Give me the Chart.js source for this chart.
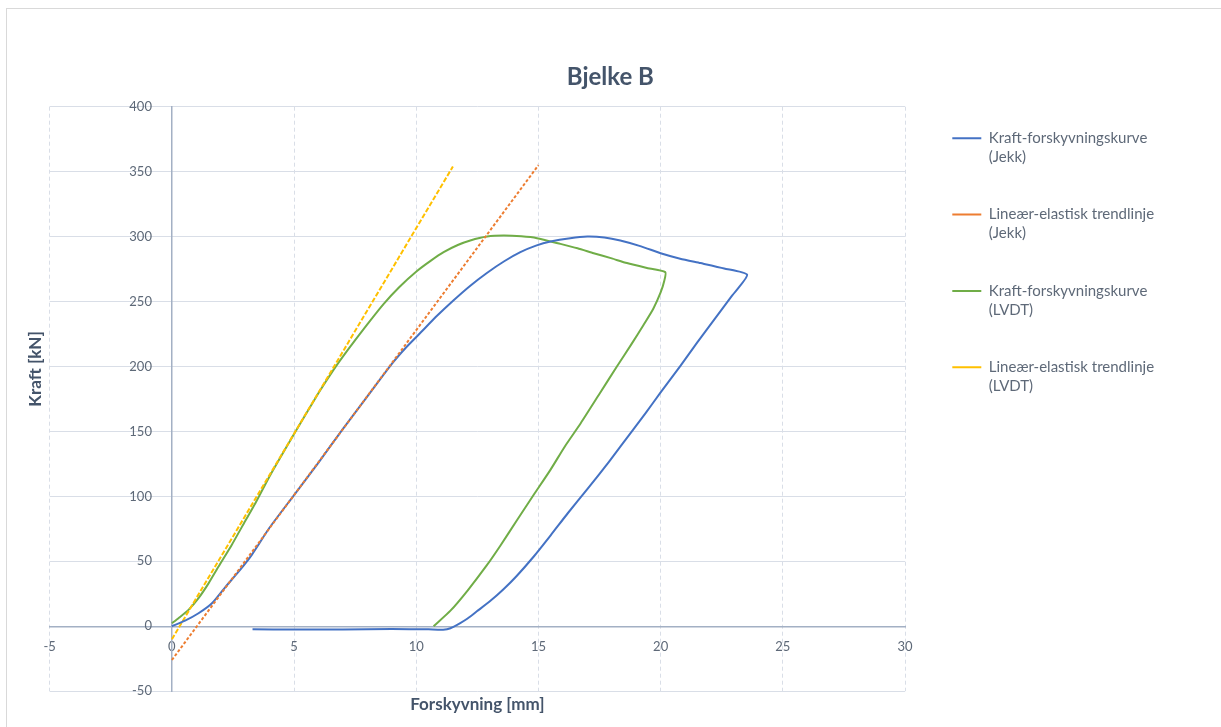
<!DOCTYPE html>
<html>
<head>
<meta charset="utf-8">
<title>Bjelke B</title>
<script src="https://cdn.jsdelivr.net/npm/chart.js@4.4.1/dist/chart.umd.min.js"></script>
<style>
    html, body { margin: 0; padding: 0; background: #fff; }
    .wrap { position: relative; width: 1221px; height: 727px; }
    .frame { position: absolute; left: 6px; top: 8px; right: 0; bottom: 0; border-left: 1px solid #d9d9d9; border-top: 1px solid #d9d9d9; pointer-events: none; }
    canvas { display: block; }
</style>
</head>
<body>
<div class="wrap">
    <canvas id="chart" width="1221" height="727"></canvas>
    <div class="frame"></div>
</div>
<script>
"use strict";

// displacement [mm] / force [kN]
const jekkX = [0, 0.54, 1.09, 1.64, 2.18, 2.73, 3.27, 4, 5, 6, 7, 8, 9, 9.6, 10.2, 10.85, 11.53, 12.2, 12.89, 13.6, 14.26, 14.9, 15.49, 16.3, 17, 17.7, 18.35, 19.2, 20, 20.8, 21.63, 22.6, 23.54,
    22.9, 22.17, 21.5, 20.81, 20, 19.4, 18.8, 17.9, 17, 16.2, 15.5, 14.8, 14.1, 13.57, 13.0, 12.48, 12.1, 11.8, 11.4, 11.1, 10.5, 9, 7, 5, 3.3];
const jekkY = [0, 4.3, 10, 17.7, 30, 42, 55, 76, 101, 126, 152, 177, 202, 215, 226.5, 239, 251, 262, 272, 281, 288, 293, 296.2, 298.8, 300, 299.3, 297, 292.5, 287.2, 283, 279.6, 275.5, 270.6,
    254, 235.5, 218.5, 200.5, 180, 164.5, 149.5, 127, 105.5, 87, 70, 53.5, 38.5, 28.5, 19, 11.5, 6, 2.5, -1.5, -2.6, -2.4, -2.2, -2.5, -2.5, -2.4];

const lvdtX = [0, 0.27, 0.68, 1.09, 1.5, 1.91, 2.46, 3, 3.41, 4, 5, 6, 6.6, 7.23, 7.98, 8.66, 9.3, 10.03, 10.6, 11.12, 11.7, 12.21, 12.9, 13.57, 14.3, 14.94, 15.9, 16.6, 17.26, 18, 18.62, 19.4, 20.19,
    20.15, 20.0, 19.7, 19.3, 18.8, 18.21, 17.5, 16.73, 16.1, 15.49, 14.8, 14.1, 13.44, 12.89, 12.1, 11.4, 10.71];
const lvdtY = [2.3, 6.2, 12.6, 21.6, 33, 46, 63, 81, 94.5, 115.5, 148, 179.5, 197, 213.5, 232, 248, 261, 273.5, 281.5, 288, 293.5, 297, 300, 300.8, 300.2, 298.8, 294.4, 291, 287.2, 283.2, 279.6, 276, 272.6,
    266, 257, 244.5, 232, 217, 200, 179, 156.3, 139, 120.4, 101, 81, 62, 47, 27.5, 12, 0];

const trendJekkX = [0, 15];
const trendJekkY = [-26, 355];
const trendLvdtX = [0, 11.5];
const trendLvdtY = [-10, 354];

const xTicks = [-5, 0, 5, 10, 15, 20, 25, 30];
const yTicks = [-50, 0, 50, 100, 150, 200, 250, 300, 350, 400];

const seriesNames = [
    ["Kraft-forskyvningskurve", "(Jekk)"],
    ["Lineær-elastisk trendlinje", "(Jekk)"],
    ["Kraft-forskyvningskurve", "(LVDT)"],
    ["Lineær-elastisk trendlinje", "(LVDT)"]
];
const seriesColors = ["#4472c4", "#ed7d31", "#70ad47", "#ffc000"];

const chartTitle = "Bjelke B";
const xTitle = "Forskyvning [mm]";
const yTitle = "Kraft [kN]";

const textColor = "#5e6978";
const titleColor = "#44546a";
const gridColor = "#d9dee7";
const axisColor = "#a3b0c4";

function points(xs, ys) {
    return xs.map((x, i) => ({ x: x, y: ys[i] }));
}

Chart.defaults.font.family = "Lato";

// legend sits right of the plot; work out its width so the plot ends where it should
const legendFontSize = 15;
const legendPad = 38.3;
const mctx = document.createElement("canvas").getContext("2d");
mctx.font = `${legendFontSize}px Lato`;
const longest = Math.max(...seriesNames.flat().map(t => mctx.measureText(t).width));
const legendWidth = legendPad + 29 + legendFontSize / 2 + longest + 10;
const plotRight = 905;
const padRight = 22;
const restRight = Math.max(0, 1221 - padRight - plotRight - 9 - legendWidth);

// y axis title, drawn by hand so it can sit a bit above the middle like the original
const yAxisTitle = {
    id: "yAxisTitle",
    afterDraw(chart) {
        const { ctx, chartArea } = chart;
        ctx.save();
        ctx.translate(chartArea.left - 14.5, (chartArea.top + chartArea.bottom) / 2 - 30);
        ctx.rotate(-Math.PI / 2);
        ctx.font = "bold 17px Lato";
        ctx.fillStyle = titleColor;
        ctx.textAlign = "center";
        ctx.textBaseline = "middle";
        ctx.fillText(yTitle, 0, 0);
        ctx.restore();
    }
};

function spacer(axis, position, size, weight) {
    return {
        type: "linear",
        axis: axis,
        position: position,
        weight: weight,
        ticks: { display: false },
        grid: { display: false },
        border: { display: false },
        afterFit: s => { if (axis === "x") { s.height = size; } else { s.width = size; } }
    };
}

const xt = spacer("x", "bottom", 24, 0);
xt.title = { display: true, text: xTitle, color: titleColor, font: { size: 17, weight: "bold" }, padding: { top: 0, bottom: 0 } };

new Chart(document.getElementById("chart"), {
    type: "scatter",
    data: {
        datasets: [
            { label: seriesNames[0].join(" "), data: points(jekkX, jekkY), borderColor: seriesColors[0], backgroundColor: seriesColors[0], borderWidth: 2, tension: 0.2, order: 2 },
            { label: seriesNames[1].join(" "), data: points(trendJekkX, trendJekkY), borderColor: seriesColors[1], backgroundColor: seriesColors[1], borderWidth: 2, borderDash: [3, 2], order: 1 },
            { label: seriesNames[2].join(" "), data: points(lvdtX, lvdtY), borderColor: seriesColors[2], backgroundColor: seriesColors[2], borderWidth: 2, tension: 0.2, order: 4 },
            { label: seriesNames[3].join(" "), data: points(trendLvdtX, trendLvdtY), borderColor: seriesColors[3], backgroundColor: seriesColors[3], borderWidth: 2, borderDash: [5, 2], order: 3 }
        ].map(ds => Object.assign(ds, { showLine: true, pointRadius: 0, pointHoverRadius: 0, xAxisID: "x", yAxisID: "y" }))
    },
    options: {
        responsive: false,
        animation: false,
        layout: { padding: { top: 10, left: 21.7, right: padRight, bottom: 11.8 } },
        plugins: {
            title: {
                display: true,
                text: chartTitle,
                color: titleColor,
                font: { size: 24, weight: "bold" },
                padding: { top: 52.6, bottom: 15.3 }
            },
            legend: {
                position: "right",
                align: "start",
                maxWidth: 400,
                title: { display: true, text: "", font: { size: 10 }, padding: { top: 70.5, bottom: 0 } },
                labels: {
                    boxWidth: 29,
                    boxHeight: 2,
                    padding: legendPad,
                    color: textColor,
                    font: { size: legendFontSize, lineHeight: 19 / 15 },
                    generateLabels: chart => chart.data.datasets.map((ds, i) => ({
                        text: seriesNames[i],
                        fillStyle: ds.borderColor,
                        strokeStyle: ds.borderColor,
                        lineWidth: 0,
                        fontColor: textColor,
                        hidden: !chart.isDatasetVisible(i),
                        datasetIndex: i
                    }))
                }
            },
            tooltip: { enabled: false }
        },
        scales: {
            x: {
                type: "linear",
                min: -5,
                max: 30,
                position: { y: 0 },
                afterBuildTicks: s => { s.ticks = xTicks.map(v => ({ value: v })); },
                ticks: { color: textColor, font: { size: 13 }, padding: 12.5 },
                grid: { color: gridColor, drawTicks: false },
                border: { color: axisColor, width: 1.5, dash: [4, 3] }
            },
            y: {
                type: "linear",
                min: -50,
                max: 400,
                position: { x: 0 },
                afterBuildTicks: s => { s.ticks = yTicks.map(v => ({ value: v })); },
                // labels sit right on the axis when it is placed at x = 0, pad them with spaces
                ticks: { color: textColor, font: { size: 13 }, callback: v => v + "      " },
                grid: { color: gridColor, drawTicks: false },
                border: { color: axisColor, width: 1.5 }
            },
            xt: xt,
            yt: spacer("y", "left", 28, 0),
            ys: spacer("y", "right", 9, 0),
            ys2: spacer("y", "right", restRight, 2000)
        }
    },
    plugins: [yAxisTitle]
});
</script>
</body>
</html>
